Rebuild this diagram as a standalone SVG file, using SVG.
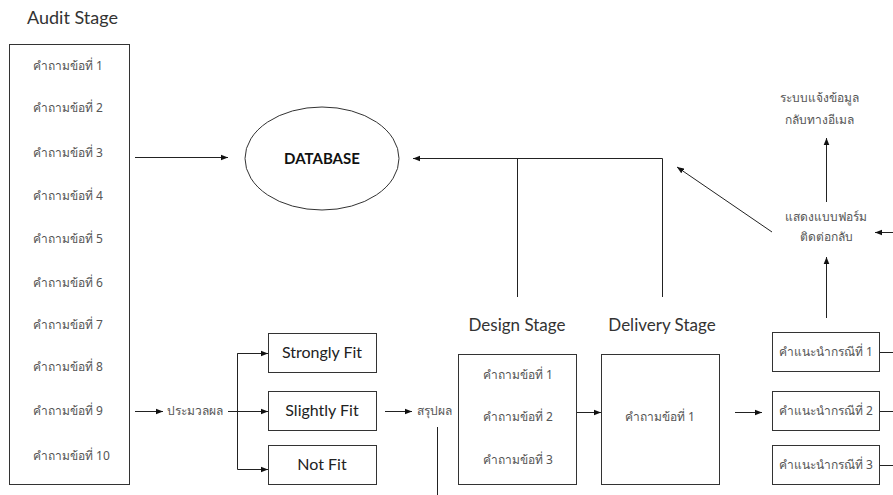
<svg xmlns="http://www.w3.org/2000/svg" width="893" height="495" viewBox="0 0 893 495">
  <style>
    .box { fill: #fff; stroke: #333; stroke-width: 1; }
    .line { fill: none; stroke: #222; stroke-width: 1; }
    .th { font-family: "Noto Sans", "DejaVu Sans", sans-serif; font-size: 12px; fill: #555; }
    .en { font-family: Lato, "Open Sans", sans-serif; font-size: 16px; fill: #222; }
    .title { font-family: Lato, "Open Sans", sans-serif; font-size: 17px; fill: #333; }
    .bold { font-family: Lato, "Open Sans", sans-serif; font-size: 15px; font-weight: bold; fill: #111; }
  </style>
  <defs>
    <marker id="arrow" viewBox="0 0 10 10" refX="10" refY="5" markerWidth="7" markerHeight="7" markerUnits="userSpaceOnUse" orient="auto">
      <path d="M0,1 L10,5 L0,9 z" fill="#111"/>
    </marker>
  </defs>

  <rect width="893" height="495" fill="#fff"/>

  <!-- Audit stage column -->
  <g id="audit">
    <text class="title" x="27" y="24" style="font-size:18px">Audit Stage</text>
    <rect class="box" x="9.5" y="44.5" width="120" height="440"/>
    <g class="th" text-anchor="start">
      <text x="33" y="70">คำถามข้อที่ 1</text>
      <text x="33" y="112">คำถามข้อที่ 2</text>
      <text x="33" y="157">คำถามข้อที่ 3</text>
      <text x="33" y="200">คำถามข้อที่ 4</text>
      <text x="33" y="243">คำถามข้อที่ 5</text>
      <text x="33" y="287">คำถามข้อที่ 6</text>
      <text x="33" y="329">คำถามข้อที่ 7</text>
      <text x="33" y="371">คำถามข้อที่ 8</text>
      <text x="33" y="415">คำถามข้อที่ 9</text>
      <text x="33" y="460">คำถามข้อที่ 10</text>
    </g>
  </g>

  <g id="database">
    <ellipse class="box" cx="322" cy="158.5" rx="77" ry="51.5"/>
    <text class="bold" x="322" y="164" text-anchor="middle">DATABASE</text>
  </g>

  <g id="process">
    <text class="th" x="167" y="415">ประมวลผล</text>
  </g>

  <g id="strongly-fit">
    <rect class="box" x="268.5" y="333.5" width="108" height="39"/>
    <text class="en" x="322" y="358" text-anchor="middle">Strongly Fit</text>
  </g>
  <g id="slightly-fit">
    <rect class="box" x="268.5" y="391.5" width="108" height="39"/>
    <text class="en" x="322" y="416" text-anchor="middle">Slightly Fit</text>
  </g>
  <g id="not-fit">
    <rect class="box" x="268.5" y="445.5" width="108" height="39"/>
    <text class="en" x="322" y="470" text-anchor="middle">Not Fit</text>
  </g>

  <g id="summary">
    <text class="th" x="417" y="415">สรุปผล</text>
  </g>

  <g id="design">
    <text class="title" x="517" y="331" text-anchor="middle">Design Stage</text>
    <rect class="box" x="458.5" y="354.5" width="118" height="130"/>
    <g class="th" text-anchor="middle">
      <text x="518" y="379">คำถามข้อที่ 1</text>
      <text x="518" y="421">คำถามข้อที่ 2</text>
      <text x="518" y="464">คำถามข้อที่ 3</text>
    </g>
  </g>

  <g id="delivery">
    <text class="title" x="662" y="331" text-anchor="middle">Delivery Stage</text>
    <rect class="box" x="601.5" y="354.5" width="118" height="130"/>
    <text class="th" x="660" y="421" text-anchor="middle">คำถามข้อที่ 1</text>
  </g>

  <g id="advice-1">
    <rect class="box" x="772.5" y="332.5" width="107" height="39"/>
    <text class="th" x="826" y="356" text-anchor="middle">คำแนะนำกรณีที่ 1</text>
  </g>
  <g id="advice-2">
    <rect class="box" x="772.5" y="391.5" width="107" height="39"/>
    <text class="th" x="826" y="415" text-anchor="middle">คำแนะนำกรณีที่ 2</text>
  </g>
  <g id="advice-3">
    <rect class="box" x="772.5" y="445.5" width="107" height="39"/>
    <text class="th" x="826" y="469" text-anchor="middle">คำแนะนำกรณีที่ 3</text>
  </g>

  <g id="contact-form">
    <text class="th" x="826" y="221" text-anchor="middle">แสดงแบบฟอร์ม</text>
    <text class="th" x="826" y="241" text-anchor="middle">ติดต่อกลับ</text>
  </g>

  <g id="email-notice">
    <text class="th" x="819" y="102" text-anchor="middle">ระบบแจ้งข้อมูล</text>
    <text class="th" x="819" y="124" text-anchor="middle">กลับทางอีเมล</text>
  </g>

  <!-- connectors -->
  <g id="connectors" class="line">
    <line x1="135" y1="157.5" x2="228" y2="157.5" marker-end="url(#arrow)"/>
    <path d="M662.5,297 V158.5 H413" marker-end="url(#arrow)"/>
    <line x1="517.5" y1="297" x2="517.5" y2="158.5"/>
    <line x1="772" y1="232" x2="677" y2="167" marker-end="url(#arrow)"/>
    <line x1="826.5" y1="202" x2="826.5" y2="138" marker-end="url(#arrow)"/>
    <line x1="826.5" y1="318" x2="826.5" y2="257" marker-end="url(#arrow)"/>
    <line x1="893" y1="232.5" x2="875" y2="232.5" marker-end="url(#arrow)"/>
    <line x1="135" y1="411.5" x2="163" y2="411.5" marker-end="url(#arrow)"/>
    <line x1="228" y1="411.5" x2="268" y2="411.5" marker-end="url(#arrow)"/>
    <path d="M268,353.5 H237.5 V469.5 H268" marker-end="url(#arrow)"/>
    <line x1="237.5" y1="353.5" x2="268" y2="353.5" marker-end="url(#arrow)"/>
    <line x1="385" y1="411.5" x2="412" y2="411.5" marker-end="url(#arrow)"/>
    <line x1="437.5" y1="427" x2="437.5" y2="495"/>
    <line x1="577" y1="412.5" x2="601" y2="412.5" marker-end="url(#arrow)"/>
    <line x1="735" y1="412.5" x2="762" y2="412.5" marker-end="url(#arrow)"/>
    <line x1="880" y1="352.5" x2="893" y2="352.5"/>
    <line x1="880" y1="411.5" x2="893" y2="411.5"/>
    <line x1="880" y1="465.5" x2="893" y2="465.5"/>
  </g>
</svg>
